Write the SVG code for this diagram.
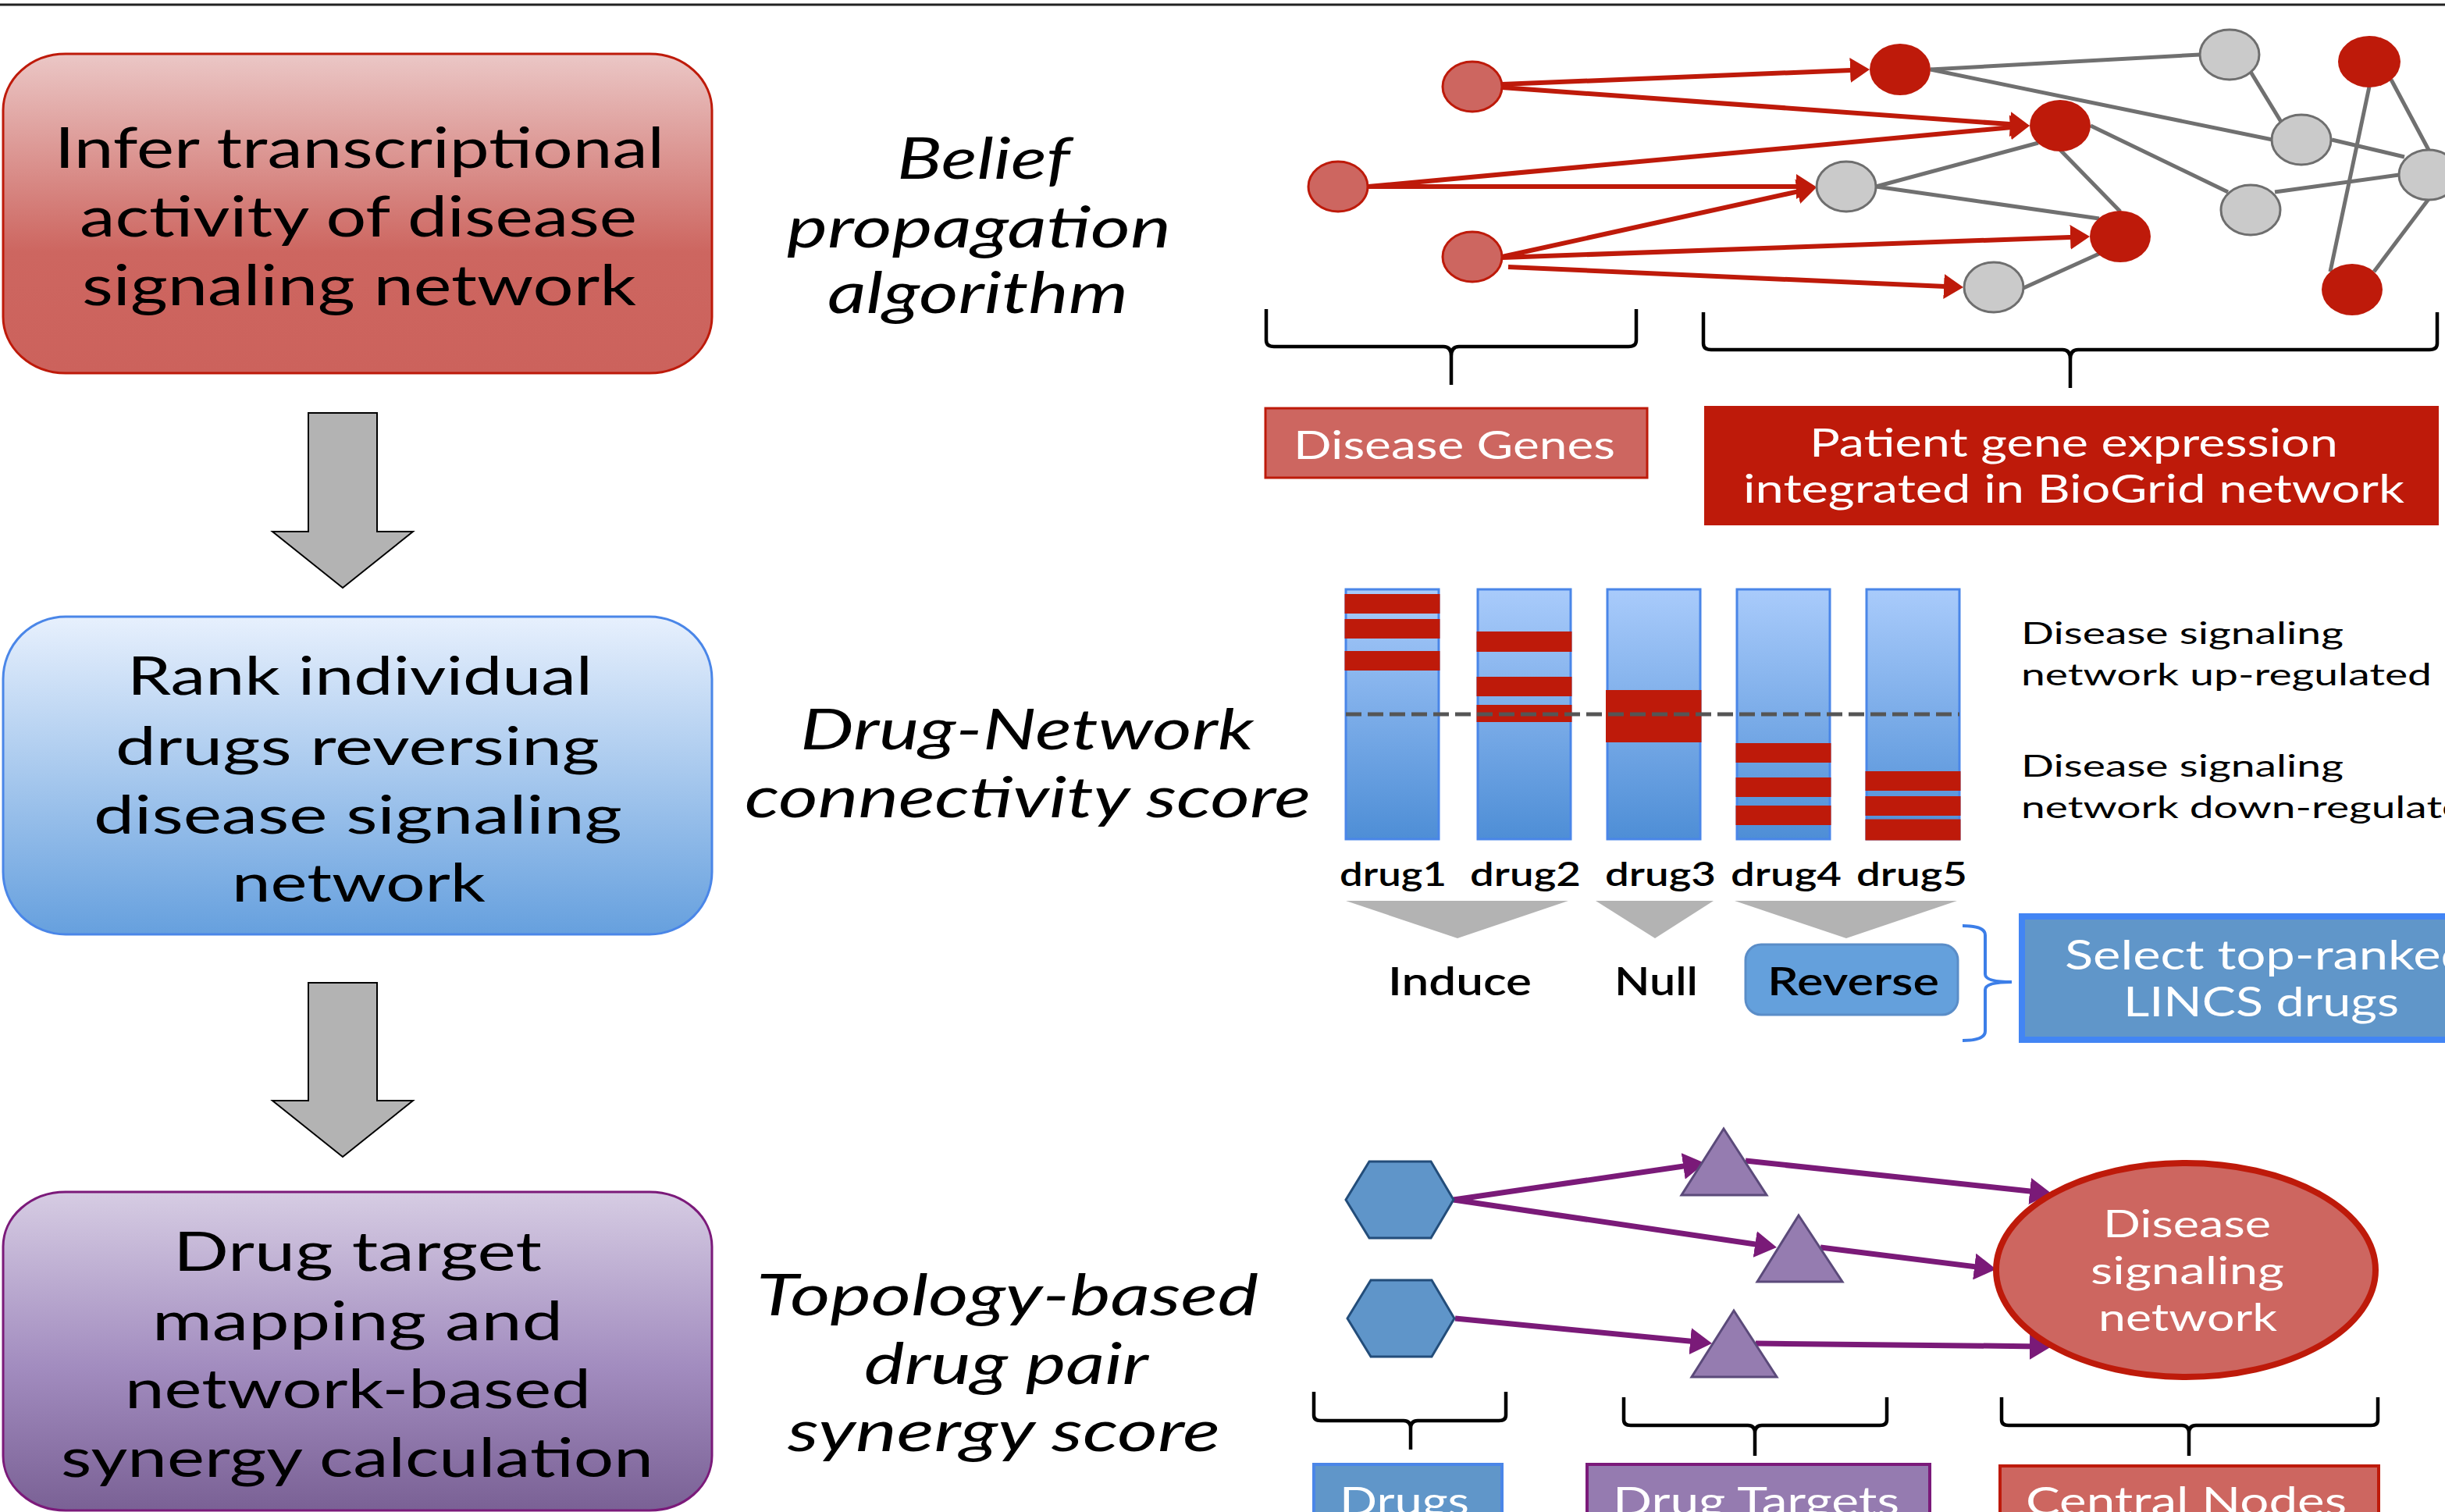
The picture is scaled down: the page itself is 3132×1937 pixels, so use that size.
<svg xmlns="http://www.w3.org/2000/svg" width="3132" height="1937" viewBox="0 0 3132 1937">
<defs>
<style>
.t{font-family:Lato,"Liberation Sans",sans-serif;fill:#000}
.it{font-style:italic}
.w{fill:#fff}
.edge{stroke:#707070;stroke-width:5;fill:none}
.red{stroke:#BE1A0A;stroke-width:6;fill:none}
.pur{stroke:#7A1A78;stroke-width:7;fill:none}
.gn{fill:#CACACA;stroke:#6E6E6E;stroke-width:3}
.lr{fill:#CD6660;stroke:#BE1A0A;stroke-width:3}
.dr{fill:#BE1A0A}
.brace{stroke:#000;stroke-width:4.5;fill:none}
.bar{fill:url(#gBar);stroke:#4A86E8;stroke-width:3}
.st{fill:#BE1A0A}
.tri{fill:#957CB0;stroke:#5B4A7A;stroke-width:3}
.hex{fill:#5F95C9;stroke:#234D7A;stroke-width:3}
.gtri{fill:#B3B3B3}
.blk{fill:#B3B3B3;stroke:#000;stroke-width:2}
</style>
<linearGradient id="gRed" x1="0" y1="0" x2="0" y2="1">
<stop offset="0" stop-color="#EBC7C6"/><stop offset="0.62" stop-color="#CD6660"/><stop offset="1" stop-color="#CC625C"/>
</linearGradient>
<linearGradient id="gBlue" x1="0" y1="0" x2="0" y2="1">
<stop offset="0" stop-color="#E7F0FD"/><stop offset="1" stop-color="#66A0DE"/>
</linearGradient>
<linearGradient id="gPur" x1="0" y1="0" x2="0" y2="1">
<stop offset="0" stop-color="#D6CCE3"/><stop offset="0.55" stop-color="#A28CBF"/><stop offset="1" stop-color="#7A6195"/>
</linearGradient>
<linearGradient id="gBar" x1="0" y1="0" x2="0" y2="1">
<stop offset="0" stop-color="#A9CBFB"/><stop offset="1" stop-color="#4E8ED6"/>
</linearGradient>
<marker id="ar" markerUnits="userSpaceOnUse" markerWidth="25" markerHeight="32" refX="13" refY="16" orient="auto">
<path d="M0,0 L25,16 L0,32 z" fill="#BE1A0A"/>
</marker>
<marker id="ap" markerUnits="userSpaceOnUse" markerWidth="28" markerHeight="34" refX="14" refY="17" orient="auto">
<path d="M0,0 L28,17 L0,34 z" fill="#7A1A78"/>
</marker>
</defs>
<rect width="3132" height="1937" fill="#fff"/>
<line x1="0" y1="6" x2="3132" y2="6" stroke="#222" stroke-width="3"/>

<!-- connectors -->
<g id="connectors">
<polygon class="blk" points="395,529 483,529 483,681 529,681 439,753 349,681 395,681"/>
<polygon class="blk" points="395,1259 483,1259 483,1410 529,1410 439,1482 349,1410 395,1410"/>
<line class="edge" x1="2473" y1="89" x2="2818" y2="70"/>
<line class="edge" x1="2473" y1="89" x2="2911" y2="179"/>
<line class="edge" x1="2611" y1="183" x2="2403" y2="239"/>
<line class="edge" x1="2639" y1="192" x2="2716" y2="271"/>
<line class="edge" x1="2678" y1="161" x2="2854" y2="246"/>
<line class="edge" x1="2403" y1="239" x2="2689" y2="280"/>
<line class="edge" x1="2592" y1="369" x2="2689" y2="325"/>
<line class="edge" x1="2883" y1="92" x2="2922" y2="156"/>
<line class="edge" x1="2987" y1="179" x2="3080" y2="201"/>
<line class="edge" x1="2914" y1="246" x2="3073" y2="224"/>
<line class="edge" x1="3035" y1="111" x2="2985" y2="348"/>
<line class="edge" x1="3063" y1="102" x2="3111" y2="192"/>
<line class="edge" x1="3041" y1="348" x2="3111" y2="255"/>
<line class="red" x1="1924" y1="108" x2="2383" y2="89.5" marker-end="url(#ar)"/>
<line class="red" x1="1924" y1="112" x2="2588" y2="160.1" marker-end="url(#ar)"/>
<line class="red" x1="1753" y1="239" x2="2588.1" y2="162.1" marker-end="url(#ar)"/>
<line class="red" x1="1753" y1="239" x2="2314" y2="239" marker-end="url(#ar)"/>
<line class="red" x1="1924" y1="329" x2="2315.3" y2="242.6" marker-end="url(#ar)"/>
<line class="red" x1="1924" y1="330" x2="2665" y2="303.4" marker-end="url(#ar)"/>
<line class="red" x1="1932" y1="342" x2="2503" y2="367.5" marker-end="url(#ar)"/>
<line class="pur" x1="1862" y1="1537" x2="2170.1" y2="1492" marker-end="url(#ap)"/>
<line class="pur" x1="1862" y1="1537" x2="2262.1" y2="1596" marker-end="url(#ap)"/>
<line class="pur" x1="1864" y1="1689" x2="2179.1" y2="1719.6" marker-end="url(#ap)"/>
<line class="pur" x1="2236" y1="1487" x2="2614.1" y2="1527.5" marker-end="url(#ap)"/>
<line class="pur" x1="2332" y1="1598" x2="2543.1" y2="1624.3" marker-end="url(#ap)"/>
<line class="pur" x1="2249" y1="1721" x2="2614" y2="1724.9" marker-end="url(#ap)"/>
</g>

<!-- left column boxes -->
<g id="box-infer">
<rect x="4" y="69" width="908" height="409" rx="80" ry="72" fill="url(#gRed)" stroke="#BE1A0A" stroke-width="3"/>
<text class="t" font-size="72" x="70" y="215" textLength="781" lengthAdjust="spacingAndGlyphs">Infer transcriptional</text>
<text class="t" font-size="72" x="102" y="303" textLength="714" lengthAdjust="spacingAndGlyphs">activity of disease</text>
<text class="t" font-size="72" x="105" y="391" textLength="710" lengthAdjust="spacingAndGlyphs">signaling network</text>
</g>
<g id="box-rank">
<rect x="4" y="790" width="908" height="407" rx="80" ry="80" fill="url(#gBlue)" stroke="#4A86E8" stroke-width="3"/>
<text class="t" font-size="68" x="163" y="890" textLength="596" lengthAdjust="spacingAndGlyphs">Rank individual</text>
<text class="t" font-size="68" x="148" y="980" textLength="620" lengthAdjust="spacingAndGlyphs">drugs reversing</text>
<text class="t" font-size="68" x="120" y="1068" textLength="677" lengthAdjust="spacingAndGlyphs">disease signaling</text>
<text class="t" font-size="68" x="297" y="1155" textLength="325" lengthAdjust="spacingAndGlyphs">network</text>
</g>
<g id="box-target">
<rect x="4" y="1527" width="908" height="408" rx="80" ry="70" fill="url(#gPur)" stroke="#7B1A7A" stroke-width="3"/>
<text class="t" font-size="70" x="222" y="1628" textLength="472" lengthAdjust="spacingAndGlyphs">Drug target</text>
<text class="t" font-size="70" x="195" y="1717" textLength="526" lengthAdjust="spacingAndGlyphs">mapping and</text>
<text class="t" font-size="70" x="160" y="1804" textLength="597" lengthAdjust="spacingAndGlyphs">network-based</text>
<text class="t" font-size="70" x="78" y="1892" textLength="759" lengthAdjust="spacingAndGlyphs">synergy calculation</text>
</g>

<!-- middle labels -->
<g id="label-belief">
<text class="t it" font-size="74" x="1149" y="229" textLength="222" lengthAdjust="spacingAndGlyphs">Belief</text>
<text class="t it" font-size="74" x="1008" y="317" textLength="492" lengthAdjust="spacingAndGlyphs">propagation</text>
<text class="t it" font-size="74" x="1060" y="401" textLength="385" lengthAdjust="spacingAndGlyphs">algorithm</text>
</g>
<g id="label-connectivity">
<text class="t it" font-size="72" x="1025" y="960" textLength="581" lengthAdjust="spacingAndGlyphs">Drug-Network</text>
<text class="t it" font-size="72" x="954" y="1047" textLength="725" lengthAdjust="spacingAndGlyphs">connectivity score</text>
</g>
<g id="label-synergy">
<text class="t it" font-size="74" x="969" y="1685" textLength="643" lengthAdjust="spacingAndGlyphs">Topology-based</text>
<text class="t it" font-size="74" x="1107" y="1773" textLength="364" lengthAdjust="spacingAndGlyphs">drug pair</text>
<text class="t it" font-size="74" x="1009" y="1859" textLength="554" lengthAdjust="spacingAndGlyphs">synergy score</text>
</g>

<!-- top network nodes -->
<g id="node-A"><ellipse class="lr" cx="1886" cy="111" rx="38" ry="32"/></g>
<g id="node-B"><ellipse class="lr" cx="1714" cy="239" rx="38" ry="32"/></g>
<g id="node-C"><ellipse class="lr" cx="1886" cy="329" rx="38" ry="32"/></g>
<g id="node-D"><ellipse class="dr" cx="2434" cy="89" rx="39" ry="33"/></g>
<g id="node-E"><ellipse class="dr" cx="2639" cy="161" rx="39" ry="33"/></g>
<g id="node-F"><ellipse class="dr" cx="2716" cy="303" rx="39" ry="33"/></g>
<g id="node-G"><ellipse class="dr" cx="3035" cy="79" rx="40" ry="33"/></g>
<g id="node-H"><ellipse class="dr" cx="3013" cy="371" rx="39" ry="33"/></g>
<g id="node-I"><ellipse class="gn" cx="2365" cy="239" rx="38" ry="32"/></g>
<g id="node-J"><ellipse class="gn" cx="2554" cy="368" rx="38" ry="32"/></g>
<g id="node-K"><ellipse class="gn" cx="2856" cy="70" rx="38" ry="32"/></g>
<g id="node-L"><ellipse class="gn" cx="2948" cy="179" rx="38" ry="32"/></g>
<g id="node-M"><ellipse class="gn" cx="2883" cy="269" rx="38" ry="32"/></g>
<g id="node-N"><ellipse class="gn" cx="3111" cy="224" rx="38" ry="32"/></g>

<g id="brace-genes"><path class="brace" d="M1622,396 L1622,436 Q1622,444 1632,444 L1849,444 Q1859,444 1859,456 L1859,493 M1859,456 Q1859,444 1869,444 L2086,444 Q2096,444 2096,436 L2096,396"/></g>
<g id="brace-patient"><path class="brace" d="M2182,400 L2182,440 Q2182,448 2192,448 L2642,448 Q2652,448 2652,460 L2652,497 M2652,460 Q2652,448 2662,448 L3112,448 Q3122,448 3122,440 L3122,400"/></g>

<g id="label-disease-genes">
<rect x="1621" y="523" width="489" height="89" fill="#CD6660" stroke="#BE1A0A" stroke-width="3"/>
<text class="t w" font-size="50" x="1657" y="588" textLength="412" lengthAdjust="spacingAndGlyphs">Disease Genes</text>
</g>
<g id="label-patient">
<rect x="2183" y="520" width="941" height="153" fill="#BE1A0A"/>
<text class="t w" font-size="50" x="2318" y="585" textLength="677" lengthAdjust="spacingAndGlyphs">Patient gene expression</text>
<text class="t w" font-size="50" x="2233" y="644" textLength="847" lengthAdjust="spacingAndGlyphs">integrated in BioGrid network</text>
</g>

<!-- bar chart -->
<g id="drug1">
<rect class="bar" x="1724" y="755" width="119" height="320"/>
<rect class="st" x="1722.5" y="761" width="122" height="25"/>
<rect class="st" x="1722.5" y="793" width="122" height="25"/>
<rect class="st" x="1722.5" y="834" width="122" height="25"/>
<text class="t" font-size="42" font-weight="600" x="1716" y="1135" textLength="137" lengthAdjust="spacingAndGlyphs">drug1</text>
</g>
<g id="drug2">
<rect class="bar" x="1893" y="755" width="119" height="320"/>
<rect class="st" x="1891.5" y="809" width="122" height="26"/>
<rect class="st" x="1891.5" y="867" width="122" height="25"/>
<rect class="st" x="1891.5" y="903" width="122" height="22"/>
<text class="t" font-size="42" font-weight="600" x="1883" y="1135" textLength="142" lengthAdjust="spacingAndGlyphs">drug2</text>
</g>
<g id="drug3">
<rect class="bar" x="2059" y="755" width="119" height="320"/>
<rect class="st" x="2057" y="884" width="122.5" height="67"/>
<text class="t" font-size="42" font-weight="600" x="2056" y="1135" textLength="142" lengthAdjust="spacingAndGlyphs">drug3</text>
</g>
<g id="drug4">
<rect class="bar" x="2225" y="755" width="119" height="320"/>
<rect class="st" x="2223.5" y="952" width="122" height="25"/>
<rect class="st" x="2223.5" y="996" width="122" height="25"/>
<rect class="st" x="2223.5" y="1032" width="122" height="25"/>
<text class="t" font-size="42" font-weight="600" x="2217" y="1135" textLength="142" lengthAdjust="spacingAndGlyphs">drug4</text>
</g>
<g id="drug5">
<rect class="bar" x="2391" y="755" width="119" height="320"/>
<rect class="st" x="2389.5" y="988" width="122" height="25"/>
<rect class="st" x="2389.5" y="1020" width="122" height="25"/>
<rect class="st" x="2389.5" y="1049.5" width="122" height="27"/>
<text class="t" font-size="42" font-weight="600" x="2378" y="1135" textLength="142" lengthAdjust="spacingAndGlyphs">drug5</text>
</g>
<line x1="1724" y1="915" x2="2510" y2="915" stroke="#555" stroke-width="5" stroke-dasharray="20 8"/>

<g id="legend-up">
<text class="t" font-size="38" x="2589" y="825" textLength="413" lengthAdjust="spacingAndGlyphs">Disease signaling</text>
<text class="t" font-size="38" x="2589" y="878" textLength="526" lengthAdjust="spacingAndGlyphs">network up-regulated</text>
</g>
<g id="legend-down">
<text class="t" font-size="38" x="2589" y="995" textLength="413" lengthAdjust="spacingAndGlyphs">Disease signaling</text>
<text class="t" font-size="38" x="2589" y="1048" textLength="599" lengthAdjust="spacingAndGlyphs">network down-regulated</text>
</g>

<g id="induce">
<polygon class="gtri" points="1724,1154 2009,1154 1867,1202"/>
<text class="t" font-size="50" font-weight="600" x="1778" y="1275" textLength="184" lengthAdjust="spacingAndGlyphs">Induce</text>
</g>
<g id="null">
<polygon class="gtri" points="2044,1154 2195,1154 2120,1202"/>
<text class="t" font-size="50" font-weight="600" x="2068" y="1275" textLength="107" lengthAdjust="spacingAndGlyphs">Null</text>
</g>
<g id="reverse">
<polygon class="gtri" points="2222,1154 2507,1154 2365,1202"/>
<rect x="2236" y="1210" width="272" height="90" rx="20" ry="20" fill="#64A0DC" stroke="#5A8DC8" stroke-width="3"/>
<text class="t" font-size="50" font-weight="600" x="2264" y="1275" textLength="220" lengthAdjust="spacingAndGlyphs">Reverse</text>
</g>
<g id="bracket-select"><path d="M2514,1186 Q2543,1186 2543,1198 L2543,1248 Q2543,1258 2577,1258 M2577,1258 Q2543,1258 2543,1268 L2543,1321 Q2543,1333 2514,1333" fill="none" stroke="#3C7EE8" stroke-width="4"/></g>
<g id="select-box">
<rect x="2590" y="1174" width="560" height="158" fill="#6096C9" stroke="#4285F4" stroke-width="8"/>
<text class="t w" font-size="52" x="2645" y="1242" textLength="519" lengthAdjust="spacingAndGlyphs">Select top-ranked</text>
<text class="t w" font-size="52" x="2720" y="1302" textLength="353" lengthAdjust="spacingAndGlyphs">LINCS drugs</text>
</g>

<!-- bottom network -->
<g id="hex-1"><polygon class="hex" points="1754,1488 1833,1488 1862,1537 1833,1586 1754,1586 1724,1537"/></g>
<g id="hex-2"><polygon class="hex" points="1756,1640 1834,1640 1863,1689 1834,1738 1756,1738 1726,1689"/></g>
<g id="target-1"><polygon class="tri" points="2208,1446 2263,1531 2154,1531"/></g>
<g id="target-2"><polygon class="tri" points="2304,1557 2360,1642 2251,1642"/></g>
<g id="target-3"><polygon class="tri" points="2221,1679 2276,1764 2167,1764"/></g>
<g id="disease-network">
<ellipse cx="2800" cy="1627" rx="243" ry="137" fill="#CD6660" stroke="#BE1A0A" stroke-width="8"/>
<text class="t w" font-size="48" x="2694" y="1585" textLength="215" lengthAdjust="spacingAndGlyphs">Disease</text>
<text class="t w" font-size="48" x="2678" y="1645" textLength="248" lengthAdjust="spacingAndGlyphs">signaling</text>
<text class="t w" font-size="48" x="2688" y="1705" textLength="229" lengthAdjust="spacingAndGlyphs">network</text>
</g>
<g id="brace-drugs"><path class="brace" d="M1683,1783 L1683,1813 Q1683,1820 1692,1820 L1798,1820 Q1807,1820 1807,1830 L1807,1857 M1807,1830 Q1807,1820 1816,1820 L1920,1820 Q1929,1820 1929,1813 L1929,1783"/></g>
<g id="brace-targets"><path class="brace" d="M2080,1790 L2080,1819 Q2080,1826 2089,1826 L2239,1826 Q2248,1826 2248,1836 L2248,1865 M2248,1836 Q2248,1826 2257,1826 L2408,1826 Q2417,1826 2417,1819 L2417,1790"/></g>
<g id="brace-central"><path class="brace" d="M2564,1790 L2564,1819 Q2564,1826 2573,1826 L2795,1826 Q2804,1826 2804,1836 L2804,1865 M2804,1836 Q2804,1826 2813,1826 L3037,1826 Q3046,1826 3046,1819 L3046,1790"/></g>
<g id="label-drugs">
<rect x="1683" y="1876" width="241" height="80" fill="#6096C9" stroke="#4A86E8" stroke-width="4"/>
<text class="t w" font-size="50" x="1716" y="1941" textLength="166" lengthAdjust="spacingAndGlyphs">Drugs</text>
</g>
<g id="label-targets">
<rect x="2033" y="1876" width="439" height="80" fill="#957BB0" stroke="#7B1A7A" stroke-width="4"/>
<text class="t w" font-size="50" x="2066" y="1941" textLength="367" lengthAdjust="spacingAndGlyphs">Drug Targets</text>
</g>
<g id="label-central">
<rect x="2562" y="1878" width="485" height="80" fill="#CD6660" stroke="#BE1A0A" stroke-width="4"/>
<text class="t w" font-size="50" x="2595" y="1941" textLength="411" lengthAdjust="spacingAndGlyphs">Central Nodes</text>
</g>
</svg>
